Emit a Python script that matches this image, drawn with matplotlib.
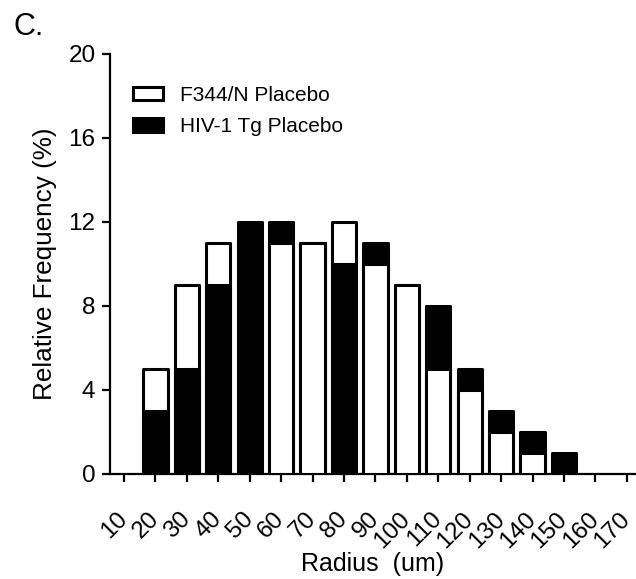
import matplotlib
matplotlib.use("Agg")
import matplotlib.pyplot as plt
from matplotlib.patches import Patch

plt.rcParams['font.family'] = ['Liberation Sans', 'DejaVu Sans']

radius_bins = [10, 20, 30, 40, 50, 60, 70, 80, 90, 100, 110, 120, 130, 140, 150, 160, 170]
f344_placebo = [0, 5, 9, 11, 0, 11, 11, 12, 10, 9, 5, 4, 2, 1, 0, 0, 0]
hiv_tg_placebo = [0, 3, 5, 9, 12, 12, 11, 10, 11, 9, 8, 5, 3, 2, 1, 0, 0]
series_names = ["F344/N Placebo", "HIV-1 Tg Placebo"]
y_ticks = [0, 4, 8, 12, 16, 20]

fig = plt.figure(figsize=(6.36, 5.79), dpi=100)
ax = fig.add_axes([110 / 636, 1 - 474 / 579, 1 - 110 / 636, (474 - 54) / 579])

bar_w = 7.7
lw = 2.2
for x, w, b in zip(radius_bins, f344_placebo, hiv_tg_placebo):
    # taller bar sits behind, shorter (or equal) bar in front; white wins ties
    z_white, z_black = (3, 2) if b >= w else (2, 3)
    if w > 0:
        ax.bar(x, w, width=bar_w, color='white', edgecolor='black', linewidth=lw,
               zorder=z_white, joinstyle='round')
    if b > 0:
        ax.bar(x, b, width=bar_w, color='black', edgecolor='black', linewidth=lw,
               zorder=z_black, joinstyle='round')

ax.set_xlim(5.54, 172.9)
ax.set_ylim(0, 20)
ax.set_yticks(y_ticks)
ax.set_xticks(radius_bins)
ax.set_xticklabels([str(v) for v in radius_bins], rotation=45, ha='right',
                   va='center', rotation_mode='anchor')

for side in ('top', 'right'):
    ax.spines[side].set_visible(False)
for side in ('left', 'bottom'):
    ax.spines[side].set_linewidth(1.6)
ax.spines['left'].set_bounds(0, 20)

ax.tick_params(axis='both', direction='out', length=6, width=1.6, labelsize=17.5)
ax.tick_params(axis='y', pad=4.5)
ax.tick_params(axis='x', pad=24)

ax.set_xlabel("Radius  (um)", fontsize=18, labelpad=0)
ax.set_ylabel("Relative Frequency (%)", fontsize=18.8, labelpad=8)

fig.text(14 / 636, 1 - 12 / 579, "C.", fontsize=22, ha='left', va='top')

handles = [Patch(facecolor='white', edgecolor='black', linewidth=lw, joinstyle='round'),
           Patch(facecolor='black', edgecolor='black', linewidth=lw, joinstyle='round')]
ax.legend(handles, series_names, loc='upper left', frameon=False, fontsize=15,
          bbox_to_anchor=(133 / 636, 1 - 86 / 579), bbox_transform=fig.transFigure,
          handlelength=1.44, handleheight=0.62, handletextpad=0.8, labelspacing=0.6,
          borderaxespad=0, borderpad=0)

fig.savefig("out.png", dpi=100)
